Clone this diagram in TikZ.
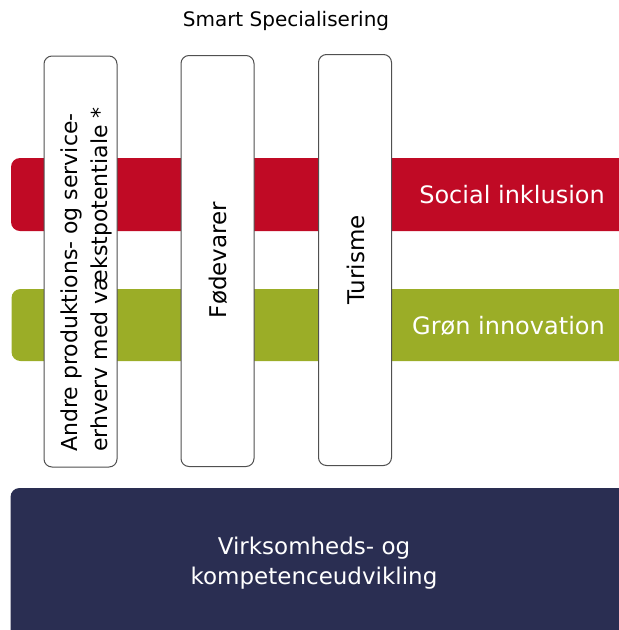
\documentclass[tikz,border=0pt]{standalone}
\usepackage{fontspec}
\setmainfont{DejaVu Sans}
\usepackage{tikz}
\usetikzlibrary{positioning}

\definecolor{socialred}{HTML}{C00A25}
\definecolor{groengreen}{HTML}{9BAD27}
\definecolor{kompnavy}{HTML}{2A2E52}
\definecolor{boxgray}{HTML}{505050}

\begin{document}
\begin{tikzpicture}[x=1pt, y=-1pt,
    band/.style={rectangle, rounded corners=9pt, minimum width=629pt, inner sep=0pt},
    bandtext/.style={text=white, font=\fontsize{24}{30}\selectfont, inner sep=0pt},
    pillar/.style={draw=boxgray, line width=1pt, fill=white, rectangle, rounded corners=8pt,
        minimum width=73pt, minimum height=411pt, inner sep=0pt},
    pillartext/.style={rotate=90, font=\fontsize{23}{30}\selectfont, align=left, inner sep=0pt}]
    \useasboundingbox (0,0) rectangle (619,630);

    % Title
    \node[font=\fontsize{20}{24}\selectfont] (title) at (286,21) {Smart Specialisering};

    % Bands
    \node[band, fill=socialred, minimum height=73pt] (social) at (325.5,194.5) {};
    \node[bandtext, anchor=east] (sociallbl) at (605,195) {Social inklusion};
    \node[band, fill=groengreen, minimum height=72pt] (groen) at (326,325) {};
    \node[bandtext, anchor=east] (groenlbl) at (605,326) {Grøn innovation};

    % Pillars
    \node[pillar] (andre) at (80.5,261.5) {};
    \node[pillar] (foede) at (217.5,261) {};
    \node[pillar] (turisme) at (355,260) {};
    \node[pillartext, anchor=west, font=\fontsize{22}{30}\selectfont] (andrelbl) at (86,452) {Andre produktions- og service-\\erhverv med vækstpotentiale *};
    \node[pillartext] (foedelbl) at (218,260) {Fødevarer};
    \node[pillartext] (turismelbl) at (355.5,260) {Turisme};

    % Base
    \node[band, fill=kompnavy, minimum height=162pt] (komp) at (325,569) {};
    \node[bandtext, align=center, font=\fontsize{23}{30}\selectfont] (komplbl) at (314,563) {Virksomheds- og\\kompetenceudvikling};
\end{tikzpicture}
\end{document}
